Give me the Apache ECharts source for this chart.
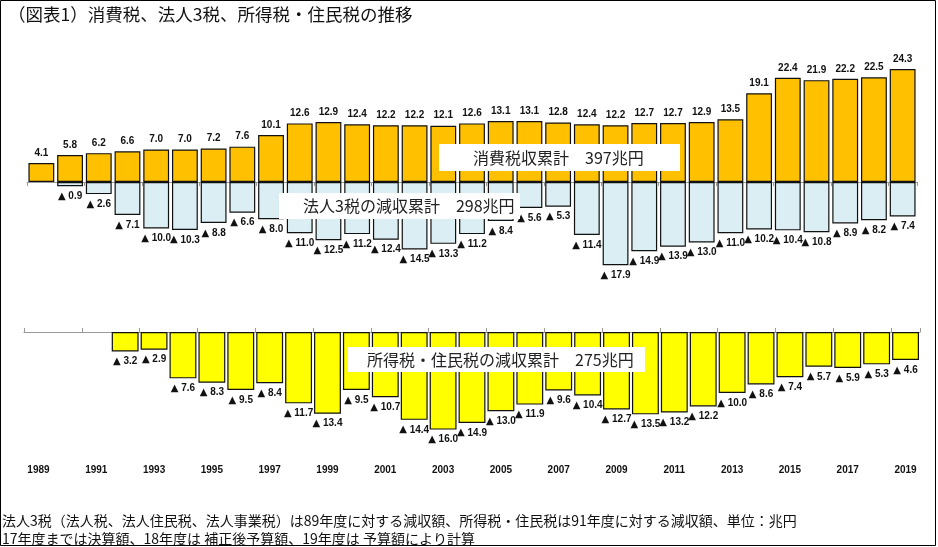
<!DOCTYPE html>
<html><head><meta charset="utf-8">
<script src="https://cdn.jsdelivr.net/npm/echarts@6/dist/echarts.min.js"></script>
<style>html,body{margin:0;padding:0;background:#fff}#c{width:938px;height:547px}</style>
</head><body><div id="c"></div>
<script>
const years = ['1989','1990','1991','1992','1993','1994','1995','1996','1997','1998','1999','2000','2001','2002','2003','2004','2005','2006','2007','2008','2009','2010','2011','2012','2013','2014','2015','2016','2017','2018','2019'];
const consumptionTax = [4.1,5.8,6.2,6.6,7.0,7.0,7.2,7.6,10.1,12.6,12.9,12.4,12.2,12.2,12.1,12.6,13.1,13.1,12.8,12.4,12.2,12.7,12.7,12.9,13.5,19.1,22.4,21.9,22.2,22.5,24.3];
const corporateCut = [null,0.9,2.6,7.1,10.0,10.3,8.8,6.6,8.0,11.0,12.5,11.2,12.4,14.5,13.3,11.2,8.4,5.6,5.3,11.4,17.9,14.9,13.9,13.0,11.0,10.2,10.4,10.8,8.9,8.2,7.4];
const incomeCut = [null,null,null,3.2,2.9,7.6,8.3,9.5,8.4,11.7,13.4,9.5,10.7,14.4,16.0,14.9,13.0,11.9,9.6,10.4,12.7,13.5,13.2,12.2,10.0,8.6,7.4,5.7,5.9,5.3,4.6];
const titleText = '（図表1）消費税、法人3税、所得税・住民税の推移';
const note1 = '法人3税（法人税、法人住民税、法人事業税）は89年度に対する減収額、所得税・住民税は91年度に対する減収額、単位：兆円';
const note2 = '17年度までは決算額、18年度は 補正後予算額、19年度は 予算額により計算';
const boxConsumption = '消費税収累計　397兆円';
const boxCorporate = '法人3税の減収累計　298兆円';
const boxIncome = '所得税・住民税の減収累計　275兆円';

const neg = a => a.map(v => v == null ? null : -v);
const numFont = 'Liberation Sans';
const jpFont = 'Noto Sans CJK JP';
const tri = p => '{t|▲} ' + Math.abs(p.value).toFixed(1);
const triRich = {t:{fontFamily:'DejaVu Sans', fontSize:10, color:'#111'}};

const chart = echarts.init(document.getElementById('c'), null, {renderer:'canvas'});
function box(x, y, w, h, tx, text) {
  return {type:'group', children:[
    {type:'rect', shape:{x:x, y:y, width:w, height:h}, style:{fill:'#fff'}, z:100},
    {type:'text', x:tx, y:y + h/2, style:{text:text, fill:'#222', font:'16px "' + jpFont + '"', textVerticalAlign:'middle'}, z:101}
  ]};
}
chart.setOption({
  animation:false,
  backgroundColor:'#fff',
  title:{text:titleText, left:3, top:1, textStyle:{fontFamily:jpFont, fontSize:17.5, fontWeight:'normal', color:'#111'}},
  grid:[
    {left:27, right:21, top:42.5, height:232.5},
    {left:24, right:18, top:332, height:122}
  ],
  xAxis:[
    {type:'category', gridIndex:0, data:years, axisLine:{lineStyle:{color:'#999'}}, axisTick:{show:true, length:4, lineStyle:{color:'#999'}}, axisLabel:{show:false}},
    {type:'category', gridIndex:1, data:years, axisLine:{lineStyle:{color:'#999'}}, axisTick:{show:true, length:4, inside:true, lineStyle:{color:'#999'}}, axisLabel:{show:false}},
    {type:'category', gridIndex:1, data:years, position:'bottom', axisLine:{show:false, onZero:false}, axisTick:{show:false},
     axisLabel:{interval:1, margin:11, fontFamily:numFont, fontWeight:'bold', fontSize:10, color:'#111'}}
  ],
  yAxis:[
    {type:'value', gridIndex:0, min:-20, max:30, show:false},
    {type:'value', gridIndex:1, min:-20, max:0, show:false}
  ],
  series:[
    {name:'消費税', type:'bar', xAxisIndex:0, yAxisIndex:0, stack:'top', data:consumptionTax, barCategoryGap:'10%',
     itemStyle:{color:'#FFC000', borderColor:'#111', borderWidth:1.2},
     label:{show:true, position:'top', distance:5, fontFamily:numFont, fontWeight:'bold', fontSize:10, color:'#111', formatter:p=>p.value.toFixed(1)}},
    {name:'法人3税', type:'bar', xAxisIndex:0, yAxisIndex:0, stack:'top', data:neg(corporateCut), barCategoryGap:'10%',
     itemStyle:{color:'#DAEEF3', borderColor:'#111', borderWidth:1.2},
     label:{show:true, position:'bottom', distance:5, fontFamily:numFont, fontWeight:'bold', fontSize:10, color:'#111', formatter:tri, rich:triRich}},
    {name:'所得税・住民税', type:'bar', xAxisIndex:1, yAxisIndex:1, data:neg(incomeCut), barCategoryGap:'7%',
     itemStyle:{color:'#FFFF00', borderColor:'#111', borderWidth:1.2},
     label:{show:true, position:'bottom', distance:5, fontFamily:numFont, fontWeight:'bold', fontSize:10, color:'#111', formatter:tri, rich:triRich}}
  ],
  graphic:[
    {type:'rect', shape:{x:0.5, y:0.5, width:935, height:545}, style:{fill:null, stroke:'#000', lineWidth:1}, z:200},
    box(439, 144, 241, 27, 473, boxConsumption),
    box(279, 193, 241, 26, 303, boxCorporate),
    box(348, 347, 297, 25, 367, boxIncome),
    {type:'text', x:2, y:521, style:{text:note1, fill:'#111', font:'14px "' + jpFont + '"', textVerticalAlign:'middle'}},
    {type:'text', x:2, y:539, style:{text:note2, fill:'#111', font:'14px "' + jpFont + '"', textVerticalAlign:'middle'}}
  ]
});
</script></body></html>
